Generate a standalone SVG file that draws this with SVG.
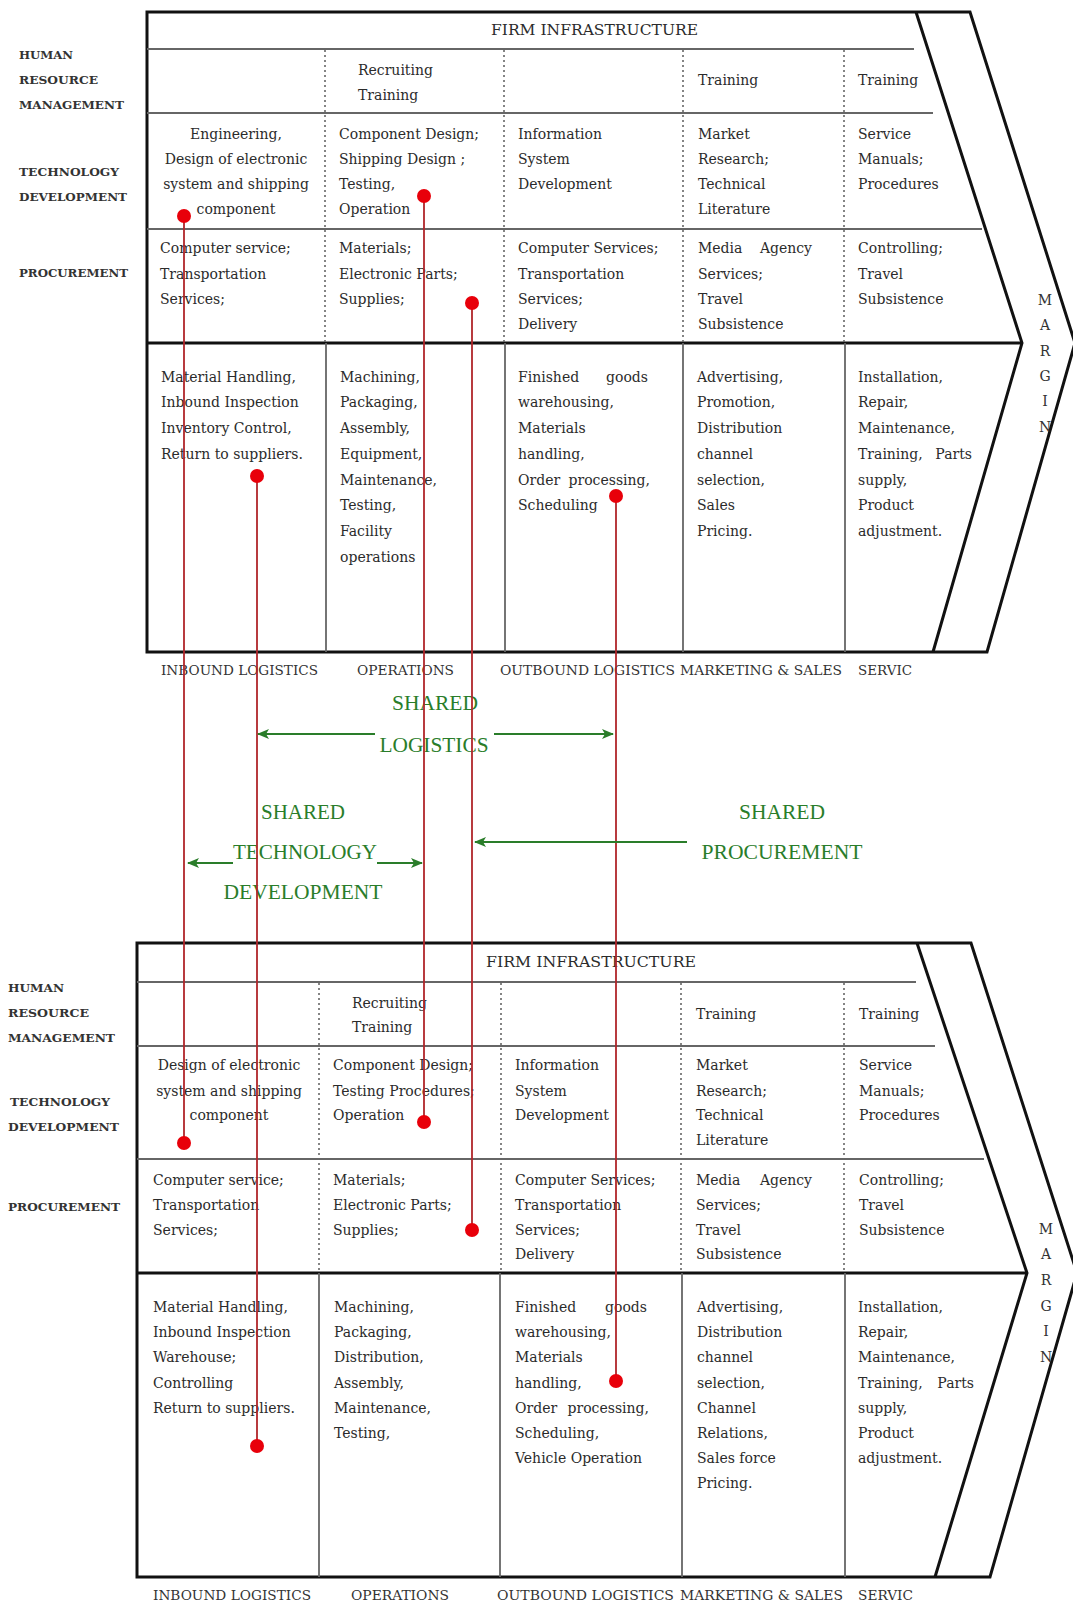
<svg xmlns="http://www.w3.org/2000/svg" width="1073" height="1602" viewBox="0 0 1073 1602">
<style>
.t{font-family:"DejaVu Serif","Liberation Serif",serif;font-size:14px;fill:#2b2b2b}
.c{text-anchor:middle}
.e{text-anchor:end}
.lb{font-family:"DejaVu Serif","Liberation Serif",serif;font-size:11px;font-weight:bold;fill:#333}
.ax{font-family:"DejaVu Serif","Liberation Serif",serif;font-size:12.5px;fill:#333}
.mg{font-family:"DejaVu Serif","Liberation Serif",serif;font-size:14px;fill:#333;text-anchor:middle}
.thick{stroke:#111;stroke-width:3;fill:none;stroke-linejoin:miter}
.thin{stroke:#666;stroke-width:1.8;fill:none}
.dot{stroke:#666;stroke-width:1.6;stroke-dasharray:2 3;fill:none}
.red{stroke:#b0252a;stroke-width:1.8;fill:none}
.rd{fill:#e8000a}
.g{font-family:"Liberation Serif","DejaVu Serif",serif;font-size:21px;fill:#2a7d2a;text-anchor:middle}
.ga{stroke:#2a7d2a;stroke-width:2;fill:none;marker-end:url(#ah)}
</style>
<defs>
<marker id="ah" viewBox="0 0 12 10" refX="11" refY="5" markerWidth="12" markerHeight="10" markerUnits="userSpaceOnUse" orient="auto">
<path d="M0,0 L12,5 L0,10 L3,5 Z" fill="#2a7d2a"/>
</marker>
</defs>
<rect width="1073" height="1602" fill="#fff"/>

<!-- ============ TOP VALUE CHAIN ============ -->
<g id="chain1">
 <g id="chain1-frame">
  <path class="thick" d="M147,12 H970 L1075,343 L987,652 H147 Z"/>
  <path class="thick" d="M916,12 L1022,343 L933,652"/>
  <path class="thick" d="M147,343 H1022"/>
  <path class="thin" d="M147,49 H914 M147,113 H933 M147,229 H982"/>
  <path class="dot" d="M325,50 V343 M504,50 V343 M683,50 V343 M844,50 V343"/>
  <path class="thin" d="M326,343 V652 M505,343 V652 M683,343 V652 M845,343 V652"/>
 </g>
 <g id="chain1-rowlabels">
  <text class="lb" x="19" y="59" textLength="54" lengthAdjust="spacingAndGlyphs">HUMAN</text>
  <text class="lb" x="19" y="84" textLength="79" lengthAdjust="spacingAndGlyphs">RESOURCE</text>
  <text class="lb" x="19" y="109" textLength="105" lengthAdjust="spacingAndGlyphs">MANAGEMENT</text>
  <text class="lb" x="19" y="176" textLength="100" lengthAdjust="spacingAndGlyphs">TECHNOLOGY</text>
  <text class="lb" x="19" y="201" textLength="108" lengthAdjust="spacingAndGlyphs">DEVELOPMENT</text>
  <text class="lb" x="19" y="277" textLength="109" lengthAdjust="spacingAndGlyphs">PROCUREMENT</text>
 </g>
 <g id="chain1-firm">
  <text class="t" x="491" y="35" textLength="207" lengthAdjust="spacingAndGlyphs">FIRM INFRASTRUCTURE</text>
 </g>
 <g id="chain1-hrm">
  <text class="t" x="358" y="75">Recruiting</text>
  <text class="t" x="358" y="100">Training</text>
  <text class="t" x="698" y="85">Training</text>
  <text class="t" x="858" y="85">Training</text>
 </g>
 <g id="chain1-tech">
  <text class="t c" x="236" y="139">Engineering,</text>
  <text class="t c" x="236" y="164">Design of electronic</text>
  <text class="t c" x="236" y="189">system and shipping</text>
  <text class="t c" x="236" y="214">component</text>
  <text class="t" x="339" y="139">Component Design;</text>
  <text class="t" x="339" y="164">Shipping Design ;</text>
  <text class="t" x="339" y="189">Testing,</text>
  <text class="t" x="339" y="214">Operation</text>
  <text class="t" x="518" y="139">Information</text>
  <text class="t" x="518" y="164">System</text>
  <text class="t" x="518" y="189">Development</text>
  <text class="t" x="698" y="139">Market</text>
  <text class="t" x="698" y="164">Research;</text>
  <text class="t" x="698" y="189">Technical</text>
  <text class="t" x="698" y="214">Literature</text>
  <text class="t" x="858" y="139">Service</text>
  <text class="t" x="858" y="164">Manuals;</text>
  <text class="t" x="858" y="189">Procedures</text>
 </g>
 <g id="chain1-procurement">
  <text class="t" x="160" y="253">Computer service;</text>
  <text class="t" x="160" y="279">Transportation</text>
  <text class="t" x="160" y="304">Services;</text>
  <text class="t" x="339" y="253">Materials;</text>
  <text class="t" x="339" y="279">Electronic Parts;</text>
  <text class="t" x="339" y="304">Supplies;</text>
  <text class="t" x="518" y="253">Computer Services;</text>
  <text class="t" x="518" y="279">Transportation</text>
  <text class="t" x="518" y="304">Services;</text>
  <text class="t" x="518" y="329">Delivery</text>
  <text class="t" x="698" y="253">Media</text>
  <text class="t e" x="812" y="253">Agency</text>
  <text class="t" x="698" y="279">Services;</text>
  <text class="t" x="698" y="304">Travel</text>
  <text class="t" x="698" y="329">Subsistence</text>
  <text class="t" x="858" y="253">Controlling;</text>
  <text class="t" x="858" y="279">Travel</text>
  <text class="t" x="858" y="304">Subsistence</text>
 </g>
 <g id="chain1-inbound">
  <text class="t" x="161" y="382">Material Handling,</text>
  <text class="t" x="161" y="407">Inbound Inspection</text>
  <text class="t" x="161" y="433">Inventory Control,</text>
  <text class="t" x="161" y="459">Return to suppliers.</text>
 </g>
 <g id="chain1-operations">
  <text class="t" x="340" y="382">Machining,</text>
  <text class="t" x="340" y="407">Packaging,</text>
  <text class="t" x="340" y="433">Assembly,</text>
  <text class="t" x="340" y="459">Equipment,</text>
  <text class="t" x="340" y="485">Maintenance,</text>
  <text class="t" x="340" y="510">Testing,</text>
  <text class="t" x="340" y="536">Facility</text>
  <text class="t" x="340" y="562">operations</text>
 </g>
 <g id="chain1-outbound">
  <text class="t" x="518" y="382">Finished</text>
  <text class="t e" x="648" y="382">goods</text>
  <text class="t" x="518" y="407">warehousing,</text>
  <text class="t" x="518" y="433">Materials</text>
  <text class="t" x="518" y="459">handling,</text>
  <text class="t" x="518" y="485">Order</text>
  <text class="t e" x="650" y="485">processing,</text>
  <text class="t" x="518" y="510">Scheduling</text>
 </g>
 <g id="chain1-marketing">
  <text class="t" x="697" y="382">Advertising,</text>
  <text class="t" x="697" y="407">Promotion,</text>
  <text class="t" x="697" y="433">Distribution</text>
  <text class="t" x="697" y="459">channel</text>
  <text class="t" x="697" y="485">selection,</text>
  <text class="t" x="697" y="510">Sales</text>
  <text class="t" x="697" y="536">Pricing.</text>
 </g>
 <g id="chain1-service">
  <text class="t" x="858" y="382">Installation,</text>
  <text class="t" x="858" y="407">Repair,</text>
  <text class="t" x="858" y="433">Maintenance,</text>
  <text class="t" x="858" y="459">Training,</text>
  <text class="t e" x="972" y="459">Parts</text>
  <text class="t" x="858" y="485">supply,</text>
  <text class="t" x="858" y="510">Product</text>
  <text class="t" x="858" y="536">adjustment.</text>
 </g>
 <g id="chain1-margin">
  <text class="mg" x="1045" y="305">M</text>
  <text class="mg" x="1045" y="330">A</text>
  <text class="mg" x="1045" y="356">R</text>
  <text class="mg" x="1045" y="381">G</text>
  <text class="mg" x="1045" y="406">I</text>
  <text class="mg" x="1045" y="432">N</text>
 </g>
 <g id="chain1-axis">
  <text class="ax" x="161" y="675" textLength="157" lengthAdjust="spacingAndGlyphs">INBOUND LOGISTICS</text>
  <text class="ax" x="357" y="675" textLength="97" lengthAdjust="spacingAndGlyphs">OPERATIONS</text>
  <text class="ax" x="500" y="675" textLength="175" lengthAdjust="spacingAndGlyphs">OUTBOUND LOGISTICS</text>
  <text class="ax" x="680" y="675" textLength="162" lengthAdjust="spacingAndGlyphs">MARKETING &amp; SALES</text>
  <text class="ax" x="858" y="675" textLength="54" lengthAdjust="spacingAndGlyphs">SERVIC</text>
 </g>
</g>

<!-- ============ BOTTOM VALUE CHAIN ============ -->
<g id="chain2">
 <g id="chain2-frame">
  <path class="thick" d="M137,943 H971 L1077,1273 L990,1577 H137 Z"/>
  <path class="thick" d="M917,943 L1027,1273 L935,1577"/>
  <path class="thick" d="M137,1273 H1027"/>
  <path class="thin" d="M137,982 H916 M137,1046 H935 M137,1159 H984"/>
  <path class="dot" d="M319,983 V1273 M501,983 V1273 M681,983 V1273 M844,983 V1273"/>
  <path class="thin" d="M319,1273 V1577 M500,1273 V1577 M682,1273 V1577 M845,1273 V1577"/>
 </g>
 <g id="chain2-rowlabels">
  <text class="lb" x="8" y="992" textLength="56" lengthAdjust="spacingAndGlyphs">HUMAN</text>
  <text class="lb" x="8" y="1017" textLength="81" lengthAdjust="spacingAndGlyphs">RESOURCE</text>
  <text class="lb" x="8" y="1042" textLength="107" lengthAdjust="spacingAndGlyphs">MANAGEMENT</text>
  <text class="lb" x="10" y="1106" textLength="100" lengthAdjust="spacingAndGlyphs">TECHNOLOGY</text>
  <text class="lb" x="8" y="1131" textLength="111" lengthAdjust="spacingAndGlyphs">DEVELOPMENT</text>
  <text class="lb" x="8" y="1211" textLength="112" lengthAdjust="spacingAndGlyphs">PROCUREMENT</text>
 </g>
 <g id="chain2-firm">
  <text class="t" x="486" y="967" textLength="210" lengthAdjust="spacingAndGlyphs">FIRM INFRASTRUCTURE</text>
 </g>
 <g id="chain2-hrm">
  <text class="t" x="352" y="1008">Recruiting</text>
  <text class="t" x="352" y="1032">Training</text>
  <text class="t" x="696" y="1019">Training</text>
  <text class="t" x="859" y="1019">Training</text>
 </g>
 <g id="chain2-tech">
  <text class="t c" x="229" y="1070">Design of electronic</text>
  <text class="t c" x="229" y="1096">system and shipping</text>
  <text class="t c" x="229" y="1120">component</text>
  <text class="t" x="333" y="1070">Component Design;</text>
  <text class="t" x="333" y="1096">Testing Procedures;</text>
  <text class="t" x="333" y="1120">Operation</text>
  <text class="t" x="515" y="1070">Information</text>
  <text class="t" x="515" y="1096">System</text>
  <text class="t" x="515" y="1120">Development</text>
  <text class="t" x="696" y="1070">Market</text>
  <text class="t" x="696" y="1096">Research;</text>
  <text class="t" x="696" y="1120">Technical</text>
  <text class="t" x="696" y="1145">Literature</text>
  <text class="t" x="859" y="1070">Service</text>
  <text class="t" x="859" y="1096">Manuals;</text>
  <text class="t" x="859" y="1120">Procedures</text>
 </g>
 <g id="chain2-procurement">
  <text class="t" x="153" y="1185">Computer service;</text>
  <text class="t" x="153" y="1210">Transportation</text>
  <text class="t" x="153" y="1235">Services;</text>
  <text class="t" x="333" y="1185">Materials;</text>
  <text class="t" x="333" y="1210">Electronic Parts;</text>
  <text class="t" x="333" y="1235">Supplies;</text>
  <text class="t" x="515" y="1185">Computer Services;</text>
  <text class="t" x="515" y="1210">Transportation</text>
  <text class="t" x="515" y="1235">Services;</text>
  <text class="t" x="515" y="1259">Delivery</text>
  <text class="t" x="696" y="1185">Media</text>
  <text class="t e" x="812" y="1185">Agency</text>
  <text class="t" x="696" y="1210">Services;</text>
  <text class="t" x="696" y="1235">Travel</text>
  <text class="t" x="696" y="1259">Subsistence</text>
  <text class="t" x="859" y="1185">Controlling;</text>
  <text class="t" x="859" y="1210">Travel</text>
  <text class="t" x="859" y="1235">Subsistence</text>
 </g>
 <g id="chain2-inbound">
  <text class="t" x="153" y="1312">Material Handling,</text>
  <text class="t" x="153" y="1337">Inbound Inspection</text>
  <text class="t" x="153" y="1362">Warehouse;</text>
  <text class="t" x="153" y="1388">Controlling</text>
  <text class="t" x="153" y="1413">Return to suppliers.</text>
 </g>
 <g id="chain2-operations">
  <text class="t" x="334" y="1312">Machining,</text>
  <text class="t" x="334" y="1337">Packaging,</text>
  <text class="t" x="334" y="1362">Distribution,</text>
  <text class="t" x="334" y="1388">Assembly,</text>
  <text class="t" x="334" y="1413">Maintenance,</text>
  <text class="t" x="334" y="1438">Testing,</text>
 </g>
 <g id="chain2-outbound">
  <text class="t" x="515" y="1312">Finished</text>
  <text class="t e" x="647" y="1312">goods</text>
  <text class="t" x="515" y="1337">warehousing,</text>
  <text class="t" x="515" y="1362">Materials</text>
  <text class="t" x="515" y="1388">handling,</text>
  <text class="t" x="515" y="1413">Order</text>
  <text class="t e" x="649" y="1413">processing,</text>
  <text class="t" x="515" y="1438">Scheduling,</text>
  <text class="t" x="515" y="1463">Vehicle Operation</text>
 </g>
 <g id="chain2-marketing">
  <text class="t" x="697" y="1312">Advertising,</text>
  <text class="t" x="697" y="1337">Distribution</text>
  <text class="t" x="697" y="1362">channel</text>
  <text class="t" x="697" y="1388">selection,</text>
  <text class="t" x="697" y="1413">Channel</text>
  <text class="t" x="697" y="1438">Relations,</text>
  <text class="t" x="697" y="1463">Sales force</text>
  <text class="t" x="697" y="1488">Pricing.</text>
 </g>
 <g id="chain2-service">
  <text class="t" x="858" y="1312">Installation,</text>
  <text class="t" x="858" y="1337">Repair,</text>
  <text class="t" x="858" y="1362">Maintenance,</text>
  <text class="t" x="858" y="1388">Training,</text>
  <text class="t e" x="974" y="1388">Parts</text>
  <text class="t" x="858" y="1413">supply,</text>
  <text class="t" x="858" y="1438">Product</text>
  <text class="t" x="858" y="1463">adjustment.</text>
 </g>
 <g id="chain2-margin">
  <text class="mg" x="1046" y="1234">M</text>
  <text class="mg" x="1046" y="1259">A</text>
  <text class="mg" x="1046" y="1285">R</text>
  <text class="mg" x="1046" y="1311">G</text>
  <text class="mg" x="1046" y="1336">I</text>
  <text class="mg" x="1046" y="1362">N</text>
 </g>
 <g id="chain2-axis">
  <text class="ax" x="153" y="1600" textLength="158" lengthAdjust="spacingAndGlyphs">INBOUND LOGISTICS</text>
  <text class="ax" x="351" y="1600" textLength="98" lengthAdjust="spacingAndGlyphs">OPERATIONS</text>
  <text class="ax" x="497" y="1600" textLength="177" lengthAdjust="spacingAndGlyphs">OUTBOUND LOGISTICS</text>
  <text class="ax" x="680" y="1600" textLength="163" lengthAdjust="spacingAndGlyphs">MARKETING &amp; SALES</text>
  <text class="ax" x="858" y="1600" textLength="55" lengthAdjust="spacingAndGlyphs">SERVIC</text>
 </g>
</g>

<!-- ============ SHARED LABELS ============ -->
<g id="shared-logistics">
 <text class="g" x="435" y="710" textLength="86" lengthAdjust="spacingAndGlyphs">SHARED</text>
 <text class="g" x="434" y="752" textLength="109" lengthAdjust="spacingAndGlyphs">LOGISTICS</text>
</g>
<g id="shared-technology">
 <text class="g" x="303" y="819" textLength="84" lengthAdjust="spacingAndGlyphs">SHARED</text>
 <text class="g" x="305" y="859" textLength="144" lengthAdjust="spacingAndGlyphs">TECHNOLOGY</text>
 <text class="g" x="303" y="899" textLength="159" lengthAdjust="spacingAndGlyphs">DEVELOPMENT</text>
</g>
<g id="shared-procurement">
 <text class="g" x="782" y="819" textLength="86" lengthAdjust="spacingAndGlyphs">SHARED</text>
 <text class="g" x="782" y="859" textLength="161" lengthAdjust="spacingAndGlyphs">PROCUREMENT</text>
</g>

<!-- ============ CONNECTORS ============ -->
<g id="connectors">
 <path class="red" d="M184,216 V1143"/>
 <path class="red" d="M257,476 V1446"/>
 <path class="red" d="M424,196 V1122"/>
 <path class="red" d="M472,303 V1230"/>
 <path class="red" d="M616,496 V1381"/>
 <circle class="rd" cx="184" cy="216" r="7"/>
 <circle class="rd" cx="424" cy="196" r="7"/>
 <circle class="rd" cx="472" cy="303" r="7"/>
 <circle class="rd" cx="257" cy="476" r="7"/>
 <circle class="rd" cx="616" cy="496" r="7"/>
 <circle class="rd" cx="184" cy="1143" r="7"/>
 <circle class="rd" cx="424" cy="1122" r="7"/>
 <circle class="rd" cx="472" cy="1230" r="7"/>
 <circle class="rd" cx="257" cy="1446" r="7"/>
 <circle class="rd" cx="616" cy="1381" r="7"/>
 <path class="ga" d="M375,734 H258"/>
 <path class="ga" d="M494,734 H613"/>
 <path class="ga" d="M233,863 H188"/>
 <path class="ga" d="M377,863 H422"/>
 <path class="ga" d="M687,842 H475"/>
</g>
</svg>
